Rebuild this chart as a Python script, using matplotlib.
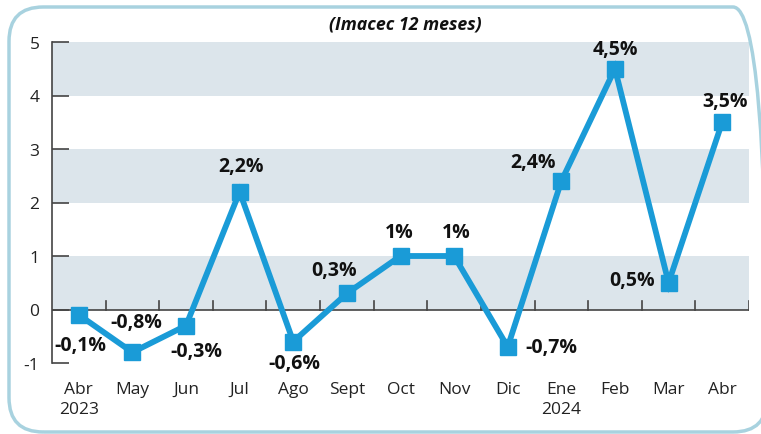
import matplotlib
matplotlib.use("Agg")
import matplotlib.pyplot as plt
from matplotlib.patches import FancyBboxPatch

months = ["Abr", "May", "Jun", "Jul", "Ago", "Sept", "Oct", "Nov", "Dic", "Ene", "Feb", "Mar", "Abr"]
years = ["2023", "", "", "", "", "", "", "", "", "2024", "", "", ""]
values = [-0.1, -0.8, -0.3, 2.2, -0.6, 0.3, 1.0, 1.0, -0.7, 2.4, 4.5, 0.5, 3.5]
labels = ["-0,1%", "-0,8%", "-0,3%", "2,2%", "-0,6%", "0,3%", "1%", "1%", "-0,7%", "2,4%", "4,5%", "0,5%", "3,5%"]
# label offsets in pixels (dx, dy)
offsets = [(2, -30), (4, 30), (10, -25), (1, 26), (1, -21), (-13, 23), (-1, 24), (2, 24), (44, 0), (-28, 19), (0, 20), (-37, 3), (3, 21)]

plt.rcParams['font.family'] = ['Open Sans', 'DejaVu Sans']

fig = plt.figure(figsize=(7.61, 4.35), dpi=100)
W, H = 761, 435
ax = fig.add_axes([52 / W, 71 / H, (749 - 52) / W, (392 - 71) / H])

line_color = "#1a9bd7"
band_color = "#dce5eb"

ax.set_xlim(-0.5, len(values) - 0.5)
ax.set_ylim(-1, 5)
for lo in (0, 2, 4):
    ax.axhspan(lo, lo + 1, color=band_color, zorder=0, lw=0)

x = list(range(len(values)))
ax.plot(x, values, color=line_color, lw=4.2, marker="s", markersize=12,
        markerfacecolor=line_color, markeredgecolor=line_color, zorder=3, solid_joinstyle="miter")

for xi, v, lab, (dx, dy) in zip(x, values, labels, offsets):
    ax.annotate(lab, (xi, v), xytext=(dx, dy), textcoords="offset pixels",
                ha="center", va="center", fontsize=14, fontweight="bold", color="#111111", zorder=4)

# spines
for s in ("top", "right", "bottom"):
    ax.spines[s].set_visible(False)
ax.spines["left"].set_color("#444444")
ax.spines["left"].set_linewidth(1.2)
ax.axhline(0, color="#444444", lw=1.2, zorder=1)
# x ticks on zero line (tick marks going up)
for t in range(len(values)):
    ax.plot([t + 0.5, t + 0.5], [0, 0.15], color="#444444", lw=1.2, zorder=1)

ax.set_yticks(range(-1, 6))
ax.set_yticklabels([str(i) for i in range(-1, 6)], fontsize=12.5, color="#222222")
ax.tick_params(axis="y", direction="in", length=12, width=1.2, color="#444444", pad=9)

ax.set_xticks(x)
ax.set_xticklabels([m + ("\n" + y if y else "") for m, y in zip(months, years)],
                   fontsize=12.5, color="#222222", va="top", linespacing=1.3)
ax.tick_params(axis="x", length=0, pad=13)

fig.text(405 / W, 1 - 25 / H, "(Imacec 12 meses)", ha="center", va="center",
         fontsize=12.8, fontweight="bold", fontstyle="italic", color="#111111")

border = FancyBboxPatch((9 / W, 2 / H), (752 - 9) / W + 0.02, (427 - 2) / H,
                        boxstyle="round,pad=0,rounding_size=0.045",
                        transform=fig.transFigure, fill=False, edgecolor="#a8d2df", lw=2.5,
                        mutation_aspect=W / H)
fig.patches.append(border)

fig.savefig("out.png", dpi=100)
